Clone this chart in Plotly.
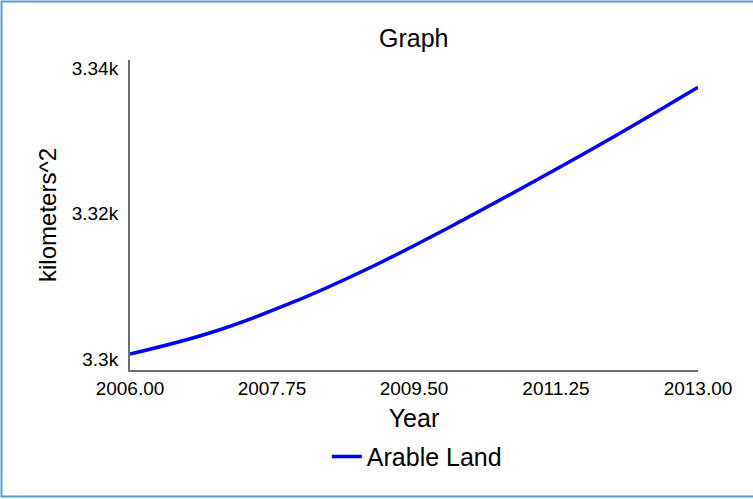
import plotly.graph_objects as go

years = [2006, 2007, 2008, 2009, 2010, 2011, 2012, 2013]
arable_land = [3300.69, 3303.65, 3307.77, 3312.79, 3318.49, 3324.54, 3330.79, 3337.35]

x_tickvals = [2006, 2007.75, 2009.5, 2011.25, 2013]
x_ticktext = ["2006.00", "2007.75", "2009.50", "2011.25", "2013.00"]
y_tickvals = [3300, 3320, 3340]
y_ticktext = ["3.3k", "3.32k", "3.34k"]

FONT = "Liberation Sans, Arial, sans-serif"

fig = go.Figure()
fig.add_trace(go.Scatter(
    x=years, y=arable_land, mode="lines", name="Arable Land",
    line=dict(color="#0000FF", width=3.5, shape="spline", smoothing=1.1),
))

fig.update_layout(
    width=753, height=499,
    margin=dict(l=130, r=55, t=60, b=129),
    paper_bgcolor="white", plot_bgcolor="white",
    font=dict(family=FONT, color="#000000"),
    title=dict(text="Graph", x=0.5495, xanchor="center", y=1 - 38 / 499, yanchor="middle",
               font=dict(size=25, family=FONT, color="#000")),
    showlegend=True,
    legend=dict(orientation="h", x=0.505, xanchor="center", y=-0.28, yanchor="middle",
                font=dict(size=25, family=FONT, color="#000"), bgcolor="rgba(0,0,0,0)"),
    xaxis=dict(
        range=[2006, 2013], tickvals=x_tickvals, ticktext=x_ticktext,
        showgrid=False, zeroline=False, showline=True, linecolor="#6e6e6e", linewidth=2,
        ticks="", ticklabelstandoff=0, tickfont=dict(size=19, family=FONT, color="#000"),
        title=dict(text="Year", font=dict(size=25, family=FONT, color="#000"), standoff=12),
    ),
    yaxis=dict(
        range=[3298.49, 3341.1], tickvals=y_tickvals, ticktext=y_ticktext,
        showgrid=False, zeroline=False, showline=True, linecolor="#6e6e6e", linewidth=2,
        ticks="", ticklabelstandoff=6, tickfont=dict(size=19, family=FONT, color="#000"),
        title=dict(text="kilometers^2", font=dict(size=24, family=FONT, color="#000"), standoff=8),
    ),
    shapes=[dict(type="rect", xref="paper", yref="paper",
                 x0=-0.2262, x1=1.5, y0=-0.408, y1=1.1887,
                 line=dict(color="#5B9BD5", width=2), fillcolor="rgba(0,0,0,0)", layer="below")],
)

fig.write_html("out.html", config={"displayModeBar": False},
               post_script="document.body.style.margin='0';")
